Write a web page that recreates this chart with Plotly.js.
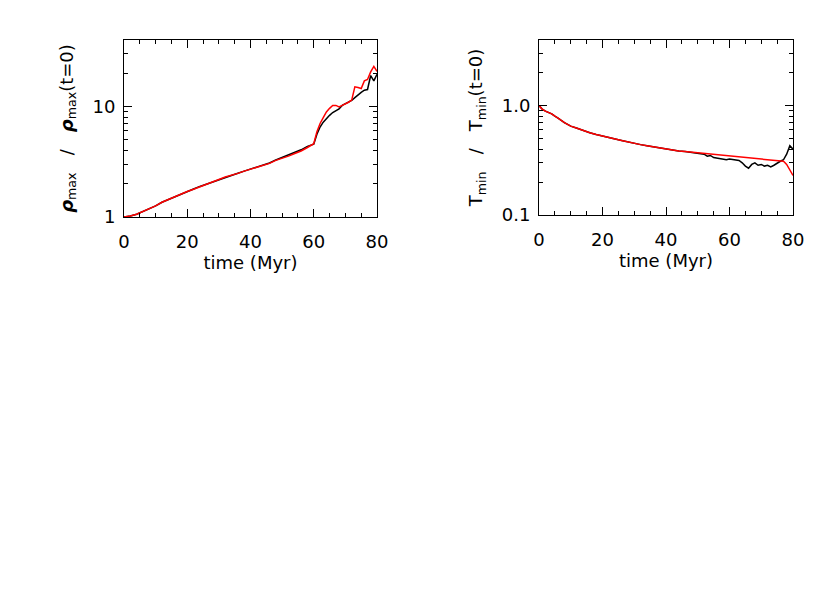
<!DOCTYPE html>
<html><head><meta charset="utf-8">
<script src="https://cdn.plot.ly/plotly-3.0.1.min.js"></script>
<style>html,body{margin:0;padding:0;background:#fff}#chart{width:830px;height:593px}</style>
</head><body><div id="chart"></div>
<script>
// Left panel: rho_max / rho_max(t=0)
const tRhoRed = [0,2,4,6,8,10,12,14,16,18,20,22,24,26,28,30,32,34,36,38,40,42,44,46,48,50,52,54,56,58,60,61,62,63,64,65,66,67,68,69,70,71,72,73,74,75,76,77,78,79,80];
const rhoRed  = [1.0,1.02,1.06,1.12,1.19,1.26,1.36,1.44,1.52,1.61,1.70,1.78,1.88,1.96,2.08,2.18,2.30,2.38,2.48,2.60,2.70,2.80,2.92,3.05,3.25,3.38,3.55,3.75,3.95,4.25,4.6,5.9,7.0,7.9,8.9,9.6,10.2,10.2,9.9,10.2,10.5,10.9,11.4,15.0,14.8,14.5,17.0,17.5,20.5,23.0,20.7];
const tRhoBlack = [0,2,4,6,8,10,12,14,16,18,20,22,24,26,28,30,32,34,36,38,40,42,44,46,48,50,52,54,56,58,60,61,62,63,64,65,66,67,68,69,70,71,72,73,74,75,76,77,78,79,80];
const rhoBlack  = [1.0,1.02,1.06,1.12,1.19,1.26,1.36,1.44,1.53,1.62,1.70,1.79,1.89,1.98,2.08,2.20,2.30,2.39,2.49,2.60,2.71,2.81,2.93,3.08,3.28,3.45,3.65,3.85,4.05,4.35,4.55,5.6,6.5,7.2,7.8,8.3,8.8,9.2,9.5,10.2,10.5,10.8,11.3,12.0,12.8,13.4,14.0,14.2,19.0,17.0,19.5];

// Right panel: T_min / T_min(t=0)
const tTRed = [0,1,2,3,4,5,6,8,10,12,14,16,18,20,22,24,26,28,30,32,34,36,38,40,42,44,46,48,50,52,54,56,58,60,62,64,66,68,70,72,74,76,77,78,79,80];
const TRed  = [1.0,0.93,0.89,0.87,0.84,0.80,0.77,0.70,0.65,0.62,0.59,0.565,0.545,0.525,0.51,0.495,0.48,0.465,0.45,0.44,0.43,0.42,0.41,0.40,0.39,0.385,0.38,0.375,0.37,0.365,0.36,0.355,0.35,0.345,0.34,0.335,0.33,0.325,0.32,0.318,0.315,0.31,0.31,0.29,0.26,0.23];
const tTBlack = [0,1,2,3,4,5,6,8,10,12,14,16,18,20,22,24,26,28,30,32,34,36,38,40,42,44,46,48,50,52,53,54,55,56,58,59,60,62,63,64,65,66,67,68,69,70,71,72,73,74,75,76,77,78,79,80];
const TBlack  = [1.0,0.93,0.89,0.87,0.84,0.80,0.77,0.70,0.65,0.62,0.59,0.565,0.545,0.525,0.51,0.495,0.48,0.465,0.45,0.44,0.43,0.42,0.41,0.40,0.39,0.385,0.38,0.375,0.37,0.36,0.345,0.35,0.335,0.33,0.325,0.32,0.325,0.32,0.315,0.30,0.28,0.268,0.29,0.30,0.285,0.29,0.28,0.285,0.275,0.285,0.30,0.31,0.32,0.36,0.43,0.40];

const xTicks = [0,20,40,60,80];
const rhoTicks = [1,10];
const rhoMinor = [2,3,4,5,6,7,8,9,20,30,40];
const TTicks = [0.1,1.0];
const TTickText = ['0.1','1.0'];
const TMinor = [0.2,0.3,0.4,0.5,0.6,0.7,0.8,0.9,2,3,4];

const font = {family:'DejaVu Sans, sans-serif', size:18, color:'#000'};
const lw = 1.5;

const traces = [
  {x:tRhoBlack, y:rhoBlack, xaxis:'x', yaxis:'y', mode:'lines', line:{color:'#000', width:lw}},
  {x:tRhoRed, y:rhoRed, xaxis:'x', yaxis:'y', mode:'lines', line:{color:'#ff0000', width:lw}},
  {x:tTBlack, y:TBlack, xaxis:'x2', yaxis:'y2', mode:'lines', line:{color:'#000', width:lw}},
  {x:tTRed, y:TRed, xaxis:'x2', yaxis:'y2', mode:'lines', line:{color:'#ff0000', width:lw}}
];

function xax(domain, anchor){
  return {domain:domain, anchor:anchor, range:[0,80], showline:true, mirror:'ticks', linecolor:'#000', linewidth:1,
    ticks:'inside', ticklen:8, tickcolor:'#000', tickmode:'array', tickvals:xTicks, showgrid:false, zeroline:false,
    tickfont:font, ticklabelstandoff:8,
    minor:{ticks:'inside', ticklen:4, tickcolor:'#000', tickmode:'linear', tick0:0, dtick:5, showgrid:false},
    title:{text:'time (Myr)', font:font, standoff:4}};
}
function yax(domain, anchor, range, tv, tt, minor, title){
  return {domain:domain, anchor:anchor, type:'log', range:range, showline:true, mirror:'ticks', linecolor:'#000', linewidth:1,
    ticks:'inside', ticklen:8, tickcolor:'#000', tickmode:'array', tickvals:tv, ticktext:tt, showgrid:false, zeroline:false,
    tickfont:font, ticklabelstandoff:4,
    minor:{ticks:'inside', ticklen:4, tickcolor:'#000', tickmode:'array', tickvals:minor, showgrid:false},
    title:{text:title, font:font, standoff:14}};
}

const layout = {
  width:830, height:593, margin:{l:0,r:0,t:0,b:0}, showlegend:false,
  paper_bgcolor:'#fff', plot_bgcolor:'#fff', font:font,
  xaxis: xax([124/830, 377/830], 'y'),
  yaxis: yax([1-217/593, 1-40/593], 'x', [0, 1.6], rhoTicks, ['1','10'], rhoMinor,
     '<b><i>ρ</i></b><sub>max</sub>   /   <b><i>ρ</i></b><sub>max</sub>(t=0)'),
  xaxis2: xax([539/830, 793/830], 'y2'),
  yaxis2: yax([1-215/593, 1-40/593], 'x2', [-1, 0.6], TTicks, TTickText, TMinor,
     'T<sub>min</sub>   /   T<sub>min</sub>(t=0)')
};

Plotly.newPlot('chart', traces, layout, {staticPlot:true, displayModeBar:false});
</script></body></html>
